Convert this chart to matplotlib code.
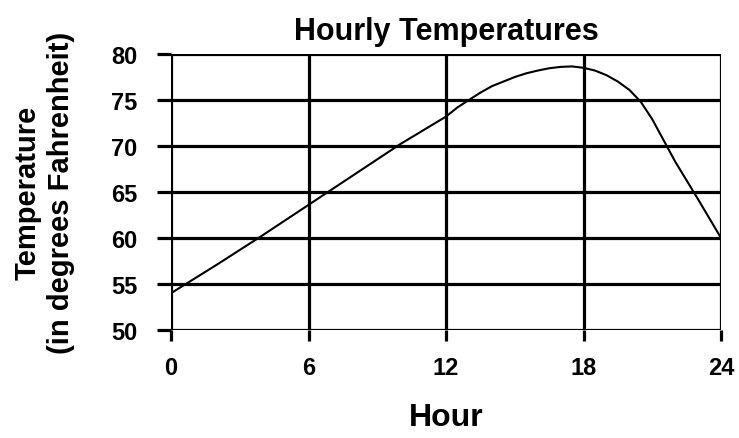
import matplotlib
matplotlib.use("Agg")
import matplotlib.pyplot as plt

plt.rcParams['font.family'] = ['Liberation Sans', 'DejaVu Sans']

hours = [0, 2, 4, 6, 8, 10, 12, 12.5, 13, 13.5, 14, 14.5, 15, 15.5, 16, 16.5,
         17, 17.5, 18, 18.5, 19, 19.5, 20, 20.5, 21, 21.5, 22, 23, 24]
temps = [54.0, 57.1, 60.3, 63.6, 66.9, 70.2, 73.2, 74.2, 75.0, 75.8, 76.5, 77.0,
         77.5, 77.9, 78.2, 78.45, 78.6, 78.65, 78.5, 78.2, 77.7, 77.0, 76.1, 74.8,
         72.9, 70.6, 68.3, 64.2, 60.0]
x_ticks = [0, 6, 12, 18, 24]
y_ticks = [50, 55, 60, 65, 70, 75, 80]

fig = plt.figure(figsize=(7.39, 4.39), dpi=100)
ax = fig.add_axes([0.2314, 0.246, 0.7443, 0.6287])

ax.plot(hours, temps, color='black', linewidth=1.5, zorder=3)
ax.set_xlim(0, 24)
ax.set_ylim(50, 80)
ax.set_xticks(x_ticks)
ax.set_yticks(y_ticks)
for s in ax.spines.values():
    s.set_visible(False)
ax.grid(True, color='black', linewidth=2.3, zorder=1)
ax.set_axisbelow(True)
ax.tick_params(axis='x', length=8, width=2.3, color='black', pad=11,
               labelsize=17)
ax.tick_params(axis='y', length=10, width=2.3, color='black', pad=14,
               labelsize=17)
for lab in ax.get_xticklabels() + ax.get_yticklabels():
    lab.set_fontweight('bold')

ax.set_title('Hourly Temperatures', fontsize=22, fontweight='bold', pad=11)
ax.set_xlabel('Hour', fontsize=23, fontweight='bold', labelpad=16)
ax.set_ylabel('Temperature\n(in degrees Fahrenheit)', fontsize=21,
              fontweight='bold', labelpad=26, linespacing=1.25)

fig.savefig('out.png', dpi=100)
